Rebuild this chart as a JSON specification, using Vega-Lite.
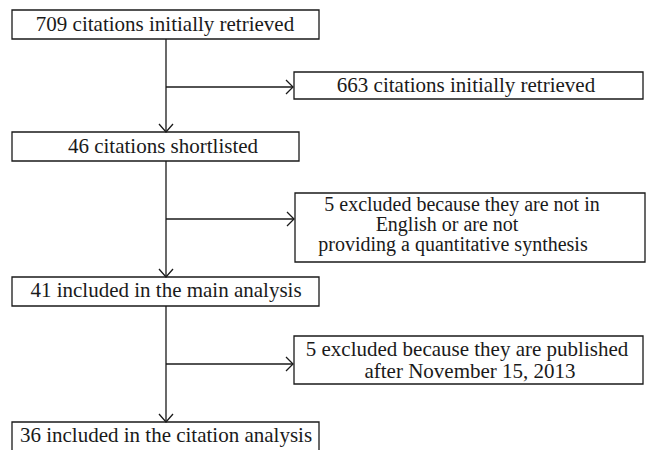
{
  "$schema": "https://vega.github.io/schema/vega-lite/v6.json",
  "width": 647,
  "height": 450,
  "autosize": {"type": "fit", "contains": "padding"},
  "padding": 0,
  "background": "white",
  "config": {"view": {"stroke": null}},
  "datasets": {
    "boxes": [
      {"x": 12, "x2": 319, "y": 10, "y2": 39},
      {"x": 294, "x2": 643, "y": 72, "y2": 99},
      {"x": 12, "x2": 299, "y": 132, "y2": 161},
      {"x": 295, "x2": 645, "y": 193, "y2": 262},
      {"x": 12, "x2": 319, "y": 277, "y2": 306},
      {"x": 294, "x2": 643, "y": 336, "y2": 384},
      {"x": 12, "x2": 319, "y": 422, "y2": 460}
    ],
    "links": [
      {"x": 166, "x2": 166, "y": 39, "y2": 132},
      {"x": 166, "x2": 293, "y": 87, "y2": 87},
      {"x": 166, "x2": 166, "y": 161, "y2": 277},
      {"x": 166, "x2": 294, "y": 219, "y2": 219},
      {"x": 166, "x2": 166, "y": 306, "y2": 422},
      {"x": 166, "x2": 293, "y": 364, "y2": 364}
    ],
    "heads": [
      {"a": 1, "o": 1, "x": 286, "y": 80},
      {"a": 1, "o": 2, "x": 293, "y": 87},
      {"a": 1, "o": 3, "x": 286, "y": 94},
      {"a": 2, "o": 1, "x": 159, "y": 124},
      {"a": 2, "o": 2, "x": 166, "y": 132},
      {"a": 2, "o": 3, "x": 173, "y": 124},
      {"a": 3, "o": 1, "x": 287, "y": 212},
      {"a": 3, "o": 2, "x": 294, "y": 219},
      {"a": 3, "o": 3, "x": 287, "y": 226},
      {"a": 4, "o": 1, "x": 159, "y": 269},
      {"a": 4, "o": 2, "x": 166, "y": 277},
      {"a": 4, "o": 3, "x": 173, "y": 269},
      {"a": 5, "o": 1, "x": 286, "y": 357},
      {"a": 5, "o": 2, "x": 293, "y": 364},
      {"a": 5, "o": 3, "x": 286, "y": 371},
      {"a": 6, "o": 1, "x": 159, "y": 414},
      {"a": 6, "o": 2, "x": 166, "y": 422},
      {"a": 6, "o": 3, "x": 173, "y": 414}
    ],
    "labels": [
      {"x": 165, "y": 25, "t": "709 citations initially retrieved"},
      {"x": 466, "y": 86, "t": "663 citations initially retrieved"},
      {"x": 163, "y": 147, "t": "46 citations shortlisted"},
      {"x": 166, "y": 291, "t": "41 included in the main analysis"},
      {"x": 467, "y": 350, "t": "5 excluded because they are published"},
      {"x": 470, "y": 372, "t": "after November 15, 2013"},
      {"x": 166, "y": 436, "t": "36 included in the citation analysis"}
    ],
    "notes": [
      {"x": 462, "y": 205, "t": "5 excluded because they are not in"},
      {"x": 447, "y": 225, "t": "English or are not"},
      {"x": 453, "y": 245, "t": "providing a quantitative synthesis"}
    ]
  },
  "layer": [
    {
      "data": {"name": "boxes"},
      "mark": {"type": "rect", "fill": "white", "stroke": "#1a1a1a", "strokeWidth": 1.3, "clip": true},
      "encoding": {
        "x": {"field": "x", "type": "quantitative", "scale": {"domain": [0, 647], "nice": false, "zero": false}, "axis": null},
        "x2": {"field": "x2"},
        "y": {"field": "y", "type": "quantitative", "scale": {"domain": [0, 450], "nice": false, "zero": false, "reverse": true}, "axis": null},
        "y2": {"field": "y2"}
      }
    },
    {
      "data": {"name": "links"},
      "mark": {"type": "rule", "color": "#1a1a1a", "strokeWidth": 1.3},
      "encoding": {
        "x": {"field": "x", "type": "quantitative"},
        "x2": {"field": "x2"},
        "y": {"field": "y", "type": "quantitative"},
        "y2": {"field": "y2"}
      }
    },
    {
      "data": {"name": "heads"},
      "mark": {"type": "line", "color": "#1a1a1a", "strokeWidth": 1.3},
      "encoding": {
        "x": {"field": "x", "type": "quantitative"},
        "y": {"field": "y", "type": "quantitative"},
        "detail": {"field": "a", "type": "nominal"},
        "order": {"field": "o", "type": "quantitative"}
      }
    },
    {
      "data": {"name": "labels"},
      "mark": {"type": "text", "font": "Liberation Serif", "fontSize": 21, "color": "#1a1a1a", "align": "center", "baseline": "middle"},
      "encoding": {
        "x": {"field": "x", "type": "quantitative"},
        "y": {"field": "y", "type": "quantitative"},
        "text": {"field": "t", "type": "nominal"}
      }
    },
    {
      "data": {"name": "notes"},
      "mark": {"type": "text", "font": "Liberation Serif", "fontSize": 20, "color": "#1a1a1a", "align": "center", "baseline": "middle"},
      "encoding": {
        "x": {"field": "x", "type": "quantitative"},
        "y": {"field": "y", "type": "quantitative"},
        "text": {"field": "t", "type": "nominal"}
      }
    }
  ]
}
